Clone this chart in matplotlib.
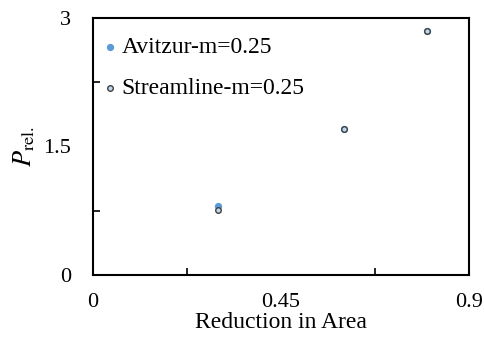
import matplotlib
matplotlib.use('Agg')
import matplotlib.pyplot as plt
from matplotlib.ticker import MultipleLocator

plt.rcParams['font.family'] = ['Liberation Serif', 'DejaVu Serif']
plt.rcParams['mathtext.fontset'] = 'stix'

# data
reduction = [0.3, 0.6, 0.8]
avitzur = [0.80, 1.70, 2.85]
streamline = [0.76, 1.70, 2.85]

fig = plt.figure(figsize=(4.85, 3.45), dpi=100)
ax = fig.add_axes([0.192, 0.203, 0.775, 0.745])

ax.scatter(reduction, avitzur, s=18, color='#5B9BD5', zorder=3,
           label='Avitzur-m=0.25')
ax.scatter(reduction, streamline, s=16, facecolor='#BDD7EE', edgecolor='#404040',
           linewidth=1.0, zorder=4, label='Streamline-m=0.25')

ax.set_xlim(0, 0.9)
ax.set_ylim(0, 3)
ax.set_xticks([0, 0.45, 0.9])
ax.set_xticklabels(['0', '0.45', '0.9'])
ax.set_yticks([0, 1.5, 3])
ax.set_yticklabels(['0', '1.5', '3'])
ax.xaxis.set_minor_locator(MultipleLocator(0.225))
ax.yaxis.set_minor_locator(MultipleLocator(0.75))

ax.tick_params(which='both', direction='in', labelsize=16, width=1.2)
ax.tick_params(which='major', length=0)
ax.tick_params(axis='x', which='major', pad=13)
ax.tick_params(axis='y', which='major', pad=16)
ax.tick_params(which='minor', length=5)
for sp in ax.spines.values():
    sp.set_linewidth(1.5)

ax.set_xlabel('Reduction in Area', fontsize=17, labelpad=0)
ax.set_ylabel(r'$P_{\rm rel.}$', fontsize=19, labelpad=4)

ax.legend(loc='upper left', frameon=False, fontsize=17, handletextpad=0.0,
          handlelength=1.0, labelspacing=0.8, borderaxespad=0.0,
          borderpad=0.2, bbox_to_anchor=(0.0, 0.945))

fig.savefig('out.png', dpi=100)
